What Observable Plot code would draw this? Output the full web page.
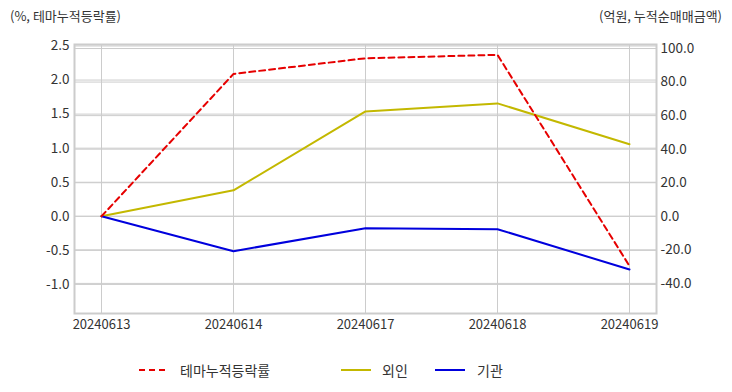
<!DOCTYPE html>
<html>
<head>
<meta charset="utf-8">
<script src="https://cdn.jsdelivr.net/npm/d3@7"></script>
<script src="https://cdn.jsdelivr.net/npm/@observablehq/plot@0.6"></script>
<style>
  body { margin: 0; background: #fff; font-family: "Noto Sans CJK KR", "Noto Sans", sans-serif; }
  #wrap { position: relative; width: 732px; height: 392px; overflow: hidden; }
  .ttl { position: absolute; top: 6px; font-size: 13px; color: #333; }
  #legend { position: absolute; top: 360px; left: 0; width: 732px; height: 20px; font-size: 14px; color: #333; }
  #legend span { position: absolute; top: 0; line-height: 20px; }
  #legend svg { position: absolute; top: 0; }
</style>
</head>
<body>
<div id="wrap">
  <div class="ttl" style="left:10px;">(%, 테마누적등락률)</div>
  <div class="ttl" style="right:10px;">(억원, 누적순매매금액)</div>
  <div id="chart"></div>
  <div id="legend"></div>
</div>
<script>
// ---- data ----
const dates = ["20240613", "20240614", "20240617", "20240618", "20240619"];
const themeRate = [0.0, 2.09, 2.32, 2.37, -0.73];     // %, left axis
const foreign = [0.0, 15.5, 62.5, 67.3, 42.9];        // 억원, right axis
const institution = [0.0, -20.8, -7.1, -7.7, -31.7];  // 억원, right axis
const leftTicks = [-1.0, -0.5, 0.0, 0.5, 1.0, 1.5, 2.0, 2.5];
const rightTicks = [-40, -20, 0, 20, 40, 60, 80, 100];
const seriesNames = ["테마누적등락률", "외인", "기관"];
const seriesColors = ["#e60000", "#c3b800", "#0000dd"];

// right-axis values expressed in left-axis units
const k = 0.02463;
const yDomain = [-1.427, 2.522];

const rows = [];
dates.forEach((d, i) => {
  rows.push({date: d, s: seriesNames[0], v: themeRate[i]});
  rows.push({date: d, s: seriesNames[1], v: foreign[i] * k});
  rows.push({date: d, s: seriesNames[2], v: institution[i] * k});
});

const chart = Plot.plot({
  width: 732,
  height: 392,
  marginTop: 44,
  marginBottom: 79,
  marginLeft: 74,
  marginRight: 76,
  style: {fontFamily: '"Noto Sans CJK KR", "Noto Sans", sans-serif', fontSize: "13px", color: "#333", background: "transparent"},
  x: {type: "point", domain: dates, padding: 0.19},
  y: {domain: yDomain},
  marks: [
    Plot.ruleX(dates, {x: d => d, stroke: "#cccccc", strokeWidth: 1}),
    Plot.ruleY(leftTicks, {y: d => d, stroke: "#cccccc", strokeWidth: 1}),
    Plot.ruleY(rightTicks, {y: d => d * k, stroke: "#cccccc", strokeWidth: 1}),
    Plot.frame({stroke: "#cccccc", strokeWidth: 2}),
    Plot.axisY(leftTicks, {anchor: "left", tickSize: 0, tickPadding: 5, tickFormat: d => d.toFixed(1), fontSize: 13.5, color: "#333", label: null}),
    Plot.axisY(rightTicks.map(v => v * k), {anchor: "right", tickSize: 0, tickPadding: 4, tickFormat: d => (Math.round(d / k)).toFixed(1), fontSize: 13.5, color: "#333", label: null}),
    Plot.axisX(dates, {anchor: "bottom", tickSize: 0, tickPadding: 6, fontSize: 13, color: "#333", label: null}),
    Plot.line(rows.filter(r => r.s === seriesNames[1]), {x: "date", y: "v", stroke: seriesColors[1], strokeWidth: 2}),
    Plot.line(rows.filter(r => r.s === seriesNames[2]), {x: "date", y: "v", stroke: seriesColors[2], strokeWidth: 2}),
    Plot.line(rows.filter(r => r.s === seriesNames[0]), {x: "date", y: "v", stroke: seriesColors[0], strokeWidth: 2, strokeDasharray: "6,4"})
  ]
});
document.getElementById("chart").appendChild(chart);

// legend
const legend = document.getElementById("legend");
const items = [
  {name: seriesNames[0], color: seriesColors[0], dash: "6,4", lx: 139, tx: 180},
  {name: seriesNames[1], color: seriesColors[1], dash: null, lx: 341, tx: 382},
  {name: seriesNames[2], color: seriesColors[2], dash: null, lx: 435, tx: 477}
];
items.forEach(it => {
  const s = document.createElementNS("http://www.w3.org/2000/svg", "svg");
  s.setAttribute("width", 32); s.setAttribute("height", 20);
  s.style.left = it.lx + "px";
  const l = document.createElementNS("http://www.w3.org/2000/svg", "line");
  l.setAttribute("x1", 0); l.setAttribute("x2", 30); l.setAttribute("y1", 10); l.setAttribute("y2", 10);
  l.setAttribute("stroke", it.color); l.setAttribute("stroke-width", 2);
  if (it.dash) l.setAttribute("stroke-dasharray", it.dash);
  s.appendChild(l);
  legend.appendChild(s);
  const t = document.createElement("span");
  t.textContent = it.name; t.style.left = it.tx + "px";
  legend.appendChild(t);
});
</script>
</body>
</html>
